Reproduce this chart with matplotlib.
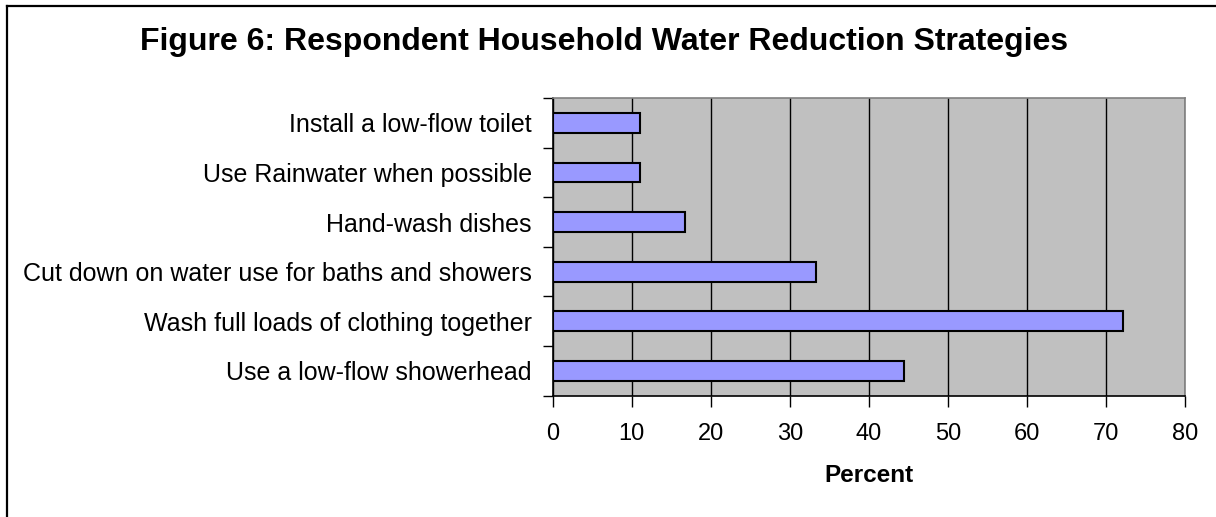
import matplotlib
matplotlib.use("Agg")
import matplotlib.pyplot as plt
from matplotlib.lines import Line2D
import numpy as np

plt.rcParams['font.family'] = ['Liberation Sans', 'DejaVu Sans']

title = "Figure 6: Respondent Household Water Reduction Strategies"
categories = [
    "Use a low-flow showerhead",
    "Wash full loads of clothing together",
    "Cut down on water use for baths and showers",
    "Hand-wash dishes",
    "Use Rainwater when possible",
    "Install a low-flow toilet",
]
values = [44.4, 72.2, 33.3, 16.7, 11.1, 11.1]
x_ticks = [0, 10, 20, 30, 40, 50, 60, 70, 80]
x_label = "Percent"

W, H = 1216, 517
fig = plt.figure(figsize=(W / 100, H / 100), dpi=100)
fig.patch.set_facecolor("white")

# outer frame (top and left edges visible)
fig.add_artist(Line2D([7 / W, 1.0], [1 - 6 / H, 1 - 6 / H], transform=fig.transFigure,
                      color="black", lw=1.6))
fig.add_artist(Line2D([7 / W, 7 / W], [0.0, 1 - 6 / H], transform=fig.transFigure,
                      color="black", lw=1.6))

left, right, top, bottom = 552.7, 1185, 98, 395.7
ax = fig.add_axes([left / W, 1 - bottom / H, (right - left) / W, (bottom - top) / H])
ax.set_facecolor("#C0C0C0")

y = np.arange(len(categories))
ax.barh(y, values, height=0.4, color="#9999FF", edgecolor="black", linewidth=1.5, zorder=3)

ax.set_xlim(0, 80)
ax.set_ylim(-0.5, len(categories) - 0.5)
ax.set_xticks(x_ticks)
ax.set_xticklabels([str(t) for t in x_ticks], fontsize=17)
ax.grid(axis="x", color="black", lw=1.0, zorder=1)
ax.tick_params(axis="x", length=8, width=1, direction="out", pad=12)

ax.set_yticks(y)
ax.set_yticklabels(categories, fontsize=18)
ax.tick_params(axis="y", which="major", length=0, pad=15)
ax.set_yticks(np.arange(-0.5, len(categories)), minor=True)
ax.tick_params(axis="y", which="minor", length=7, width=1, direction="out")

ax.set_xlabel(x_label, fontsize=17.5, fontweight="bold", labelpad=13)

for s in ["top", "right"]:
    ax.spines[s].set_color("#808080")
    ax.spines[s].set_linewidth(1.2)
for s in ["left", "bottom"]:
    ax.spines[s].set_color("black")
    ax.spines[s].set_linewidth(1.2)

fig.text(0.497, 1 - 41.7 / H, title, ha="center", va="center", fontsize=23, fontweight="bold")

fig.savefig("out.png", dpi=100)
